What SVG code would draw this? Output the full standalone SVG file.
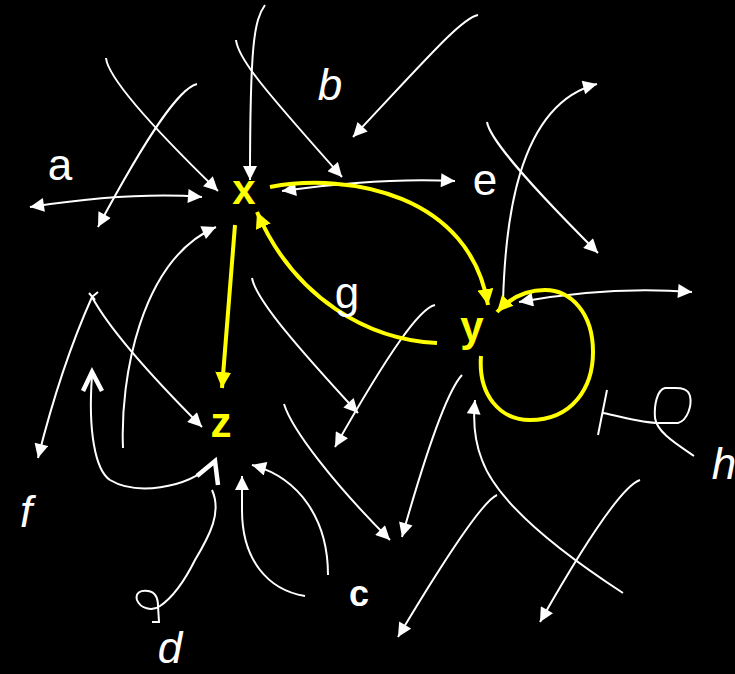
<svg xmlns="http://www.w3.org/2000/svg" width="735" height="674" viewBox="0 0 735 674">
<defs>
<style>
.w{fill:none;stroke:#fff;stroke-width:2}
.wa{marker-end:url(#wh)}
.wb{marker-start:url(#wh);marker-end:url(#wh)}
.chev{fill:none;stroke:#fff;stroke-width:4.5;stroke-linejoin:miter;stroke-linecap:butt}
.y{fill:none;stroke:#ffff00;stroke-width:4}
.ya{marker-end:url(#yh)}
.node{fill:#ffff00;font-family:"Liberation Sans",Arial,sans-serif;font-weight:bold;font-size:42px;text-anchor:middle}
.lbl{fill:#fff;font-family:"Liberation Sans",Arial,sans-serif;font-size:44px;text-anchor:middle}
.it{font-style:italic}
</style>
<marker id="wh" viewBox="0 0 10 10" refX="10" refY="5" markerWidth="15" markerHeight="14" markerUnits="userSpaceOnUse" orient="auto-start-reverse">
<path d="M0,0 L10,5 L0,10 z" fill="#fff"/>
</marker>
<marker id="yh" viewBox="0 0 10 10" refX="10" refY="5" markerWidth="16" markerHeight="16" markerUnits="userSpaceOnUse" orient="auto-start-reverse">
<path d="M0,0 L10,5 L0,10 z" fill="#ffff00"/>
</marker>
</defs>
<rect width="735" height="674" fill="#000"/>
<g id="connectors">
<path class="w wa" d="M106,58 C108,78 150,125 218,191"/>
<path class="w wa" d="M197,84 C180,88 150,130 98,227"/>
<path class="w wb" d="M30,207 C90,198 150,193 202,197"/>
<path class="w wa" d="M265,5 C254,20 250,45 250,180"/>
<path class="w wa" d="M236,40 C238,58 260,85 342,177"/>
<path class="w wa" d="M478,15 C462,18 430,55 353,137"/>
<path class="w wb" d="M282,191 C340,183 400,178 455,181"/>
<path class="w wa" d="M487,122 C490,140 530,185 598,253"/>
<path class="w wa" d="M503,302 C505,230 515,105 597,84"/>
<path class="w wb" d="M519,302 C580,291 640,288 692,292"/>
<path class="w" d="M607,390 L598,435 M603,413 C620,416 640,423 660,423 L678,423 C688,420 692,405 690,396 C688,389 682,388 675,388 L665,388 C657,390 654,405 655,418 C657,432 675,443 694,456"/>
<path class="w" d="M89,293 L95,300 M92,297 L98,292"/>
<path class="w wa" d="M92,297 C75,335 55,390 38,458"/>
<path class="w wa" d="M92,297 C110,330 150,375 202,427"/>
<path class="w wa" d="M123,448 C120,380 140,260 216,227"/>
<path class="w" d="M92,376 C88,430 95,470 110,480 C135,495 185,490 214,463"/>
<path class="chev" d="M83,391 L92,372 L102,391"/>
<path class="chev" d="M197,476 L215,461 L218,485"/>
<path class="w" d="M212,490 C222,512 210,535 195,560 C185,580 172,598 160,606 C152,612 140,608 137,600 C135,593 140,590 148,591 C155,592 158,598 158,606 L159,622 L152,622"/>
<path class="w wa" d="M328,575 C328,520 300,478 252,465"/>
<path class="w wa" d="M305,596 C268,590 242,560 242,510 L242,476"/>
<path class="w wa" d="M284,404 C292,430 335,485 390,540"/>
<path class="w wa" d="M462,375 C448,390 428,445 402,537"/>
<path class="w wa" d="M252,278 C256,300 300,350 358,413"/>
<path class="w wa" d="M435,305 C420,308 390,350 335,447"/>
<path class="w wa" d="M497,495 C485,500 450,550 398,637"/>
<path class="w wa" d="M623,593 C580,565 500,510 482,460 C474,440 473,420 475,400"/>
<path class="w wa" d="M640,480 C625,485 595,525 540,622"/>
<path class="y ya" d="M235,225 Q229,300 222,388"/>
<path class="y ya" d="M270,187 C350,172 470,195 488,305"/>
<path class="y ya" d="M437,343 C370,340 295,300 257,212"/>
<path class="y ya" d="M481,356 C478,395 500,420 530,420 C572,420 593,388 593,352 C593,312 570,290 545,290 C525,290 510,298 497,312"/>
</g>
<g id="node-x"><text class="node" x="244" y="204">x</text></g>
<g id="node-y"><text class="node" x="472" y="341">y</text></g>
<g id="node-z"><text class="node" x="221" y="437">z</text></g>
<g id="labels">
<text class="lbl" x="60" y="180">a</text>
<text class="lbl it" x="330" y="100">b</text>
<text class="lbl" x="359" y="606" style="font-size:36px;font-weight:bold">c</text>
<text class="lbl it" x="170" y="663">d</text>
<text class="lbl" x="485" y="195">e</text>
<text class="lbl it" x="26" y="527">f</text>
<text class="lbl" x="347" y="308">g</text>
<text class="lbl it" x="724" y="479">h</text>
</g>
</svg>
